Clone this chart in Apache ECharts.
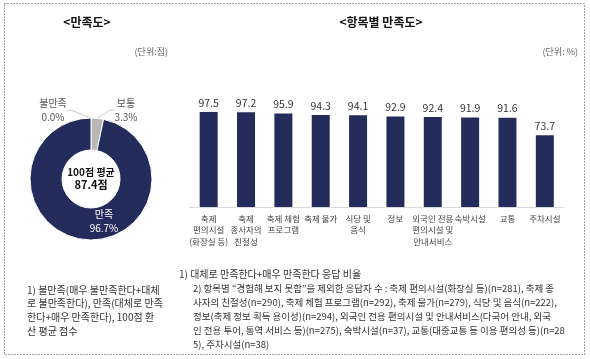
<!DOCTYPE html>
<html><head><meta charset="utf-8">
<script src="https://cdn.jsdelivr.net/npm/echarts@6/dist/echarts.min.js"></script>
<style>html,body{margin:0;padding:0;background:#fff}#c{width:590px;height:359px}</style>
</head><body><div id="c"></div>
<script>
const pieNames = ['불만족', '보통', '만족'];
const pieValues = [0.0, 3.3, 96.7];
const barCategories = ['축제\n편의시설\n(화장실 등)', '축제\n종사자의\n친절성', '축제 체험\n프로그램', '축제 물가', '식당 및\n음식', '정보', '외국인 전용\n편의시설 및\n안내서비스', '숙박시설', '교통', '주차시설'];
const barValues = [97.5, 97.2, 95.9, 94.3, 94.1, 92.9, 92.4, 91.9, 91.6, 73.7];
const avgLabel = '100점 평균';
const avgValue = '87.4점';

const FONT = '"Noto Sans CJK KR", "Noto Sans", sans-serif';
const NAVY = '#242c5c';
const chart = echarts.init(document.getElementById('c'), null, {renderer: 'canvas'});

const leftNote = '1) 불만족(매우 불만족한다+대체\n로 불만족한다), 만족(대체로 만족\n한다+매우 만족한다), 100점 환\n산 평균 점수';
const rightNote1 = '1) 대체로 만족한다+매우 만족한다 응답 비율';
const rightNote2 = '2) 항목별 “경험해 보지 못함”을 제외한 응답자 수 : 축제 편의시설(화장실 등)(n=281), 축제 종\n사자의 친절성(n=290), 축제 체험 프로그램(n=292), 축제 물가(n=279), 식당 및 음식(n=222),\n정보(축제 정보 획득 용이성)(n=294), 외국인 전용 편의시설 및 안내서비스(다국어 안내, 외국\n인 전용 투어, 통역 서비스 등)(n=275), 숙박시설(n=37), 교통(대중교통 등 이용 편의성 등)(n=28\n5), 주차시설(n=38)';

const labelPos = [
  {x: 53, y: 110},
  {x: 126, y: 110},
  {x: 104, y: 221}
];

const option = {
  animation: false,
  textStyle: {fontFamily: FONT},
  grid: {left: 190, right: 26.5, top: 109.5, bottom: 152},
  xAxis: {
    type: 'category',
    data: barCategories,
    axisLine: {lineStyle: {color: '#d9d9d9', width: 1}},
    axisTick: {show: false},
    axisLabel: {interval: 0, color: '#444', fontSize: 8.5, lineHeight: 11.5, margin: 6, fontFamily: FONT, verticalAlign: 'top'}
  },
  yAxis: {type: 'value', min: 0, max: 100, show: false, splitLine: {show: false}},
  series: [
    {
      type: 'bar',
      data: barValues,
      barWidth: 18,
      itemStyle: {color: NAVY},
      label: {show: true, position: 'top', distance: 4, color: '#333', fontSize: 10.5, fontFamily: FONT,
        formatter: p => p.value.toFixed(1)}
    },
    {
      type: 'pie',
      center: [91, 179],
      radius: [29, 61],
      startAngle: 90,
      clockwise: true,
      avoidLabelOverlap: false,
      minShowLabelAngle: 0,
      data: pieNames.map((n, i) => ({
        name: n, value: pieValues[i],
        itemStyle: {color: ['#ffffff', '#b7b7b7', NAVY][i]},
        label: i === 2 ? {position: 'inside', color: '#ffffff'} : {position: 'outside', color: '#555'},
        labelLine: {show: i !== 2, lineStyle: {color: '#c8c8c8', width: 1}}
      })),
      itemStyle: {borderColor: '#ffffff', borderWidth: 1},
      label: {show: true, fontSize: 10, lineHeight: 14, fontFamily: FONT,
        formatter: p => p.name + '\n' + p.value.toFixed(1) + '%'},
      labelLine: {show: true, length: 6, length2: 4},
      labelLayout: p => ({x: labelPos[p.dataIndex].x, y: labelPos[p.dataIndex].y, align: 'center', verticalAlign: 'middle'}),
      emphasis: {disabled: true}
    }
  ],
  graphic: [
    {type: 'rect', shape: {x: 4.5, y: 3.5, width: 580, height: 351}, style: {fill: 'none', stroke: '#444', lineWidth: 1, lineDash: [1, 2]}, silent: true},
    {type: 'text', style: {x: 87, y: 22, text: '<만족도>', font: 'bold 12px ' + FONT, fill: '#111', textAlign: 'center', textVerticalAlign: 'middle'}},
    {type: 'text', style: {x: 381, y: 22, text: '<항목별 만족도>', font: 'bold 12px ' + FONT, fill: '#111', textAlign: 'center', textVerticalAlign: 'middle'}},
    {type: 'text', style: {x: 168, y: 52, text: '(단위:점)', font: '9px ' + FONT, fill: '#666', textAlign: 'right', textVerticalAlign: 'middle'}},
    {type: 'text', style: {x: 578, y: 52, text: '(단위: %)', font: '9px ' + FONT, fill: '#666', textAlign: 'right', textVerticalAlign: 'middle'}},
    {type: 'text', style: {x: 91, y: 172, text: avgLabel, font: 'bold 10px ' + FONT, fill: '#111', textAlign: 'center', textVerticalAlign: 'middle'}},
    {type: 'text', style: {x: 91, y: 185, text: avgValue, font: 'bold 11px ' + FONT, fill: '#111', textAlign: 'center', textVerticalAlign: 'middle'}},
    {type: 'text', style: {x: 27, y: 283, text: leftNote, font: '10px ' + FONT, lineHeight: 13.7, fill: '#333', textAlign: 'left', textVerticalAlign: 'top'}},
    {type: 'text', style: {x: 179, y: 267, text: rightNote1, font: '10px ' + FONT, lineHeight: 14, fill: '#333', textAlign: 'left', textVerticalAlign: 'top'}},
    {type: 'text', style: {x: 193, y: 281, text: rightNote2, font: '9.5px ' + FONT, lineHeight: 14, fill: '#333', textAlign: 'left', textVerticalAlign: 'top'}}
  ]
};
chart.setOption(option);
</script></body></html>
